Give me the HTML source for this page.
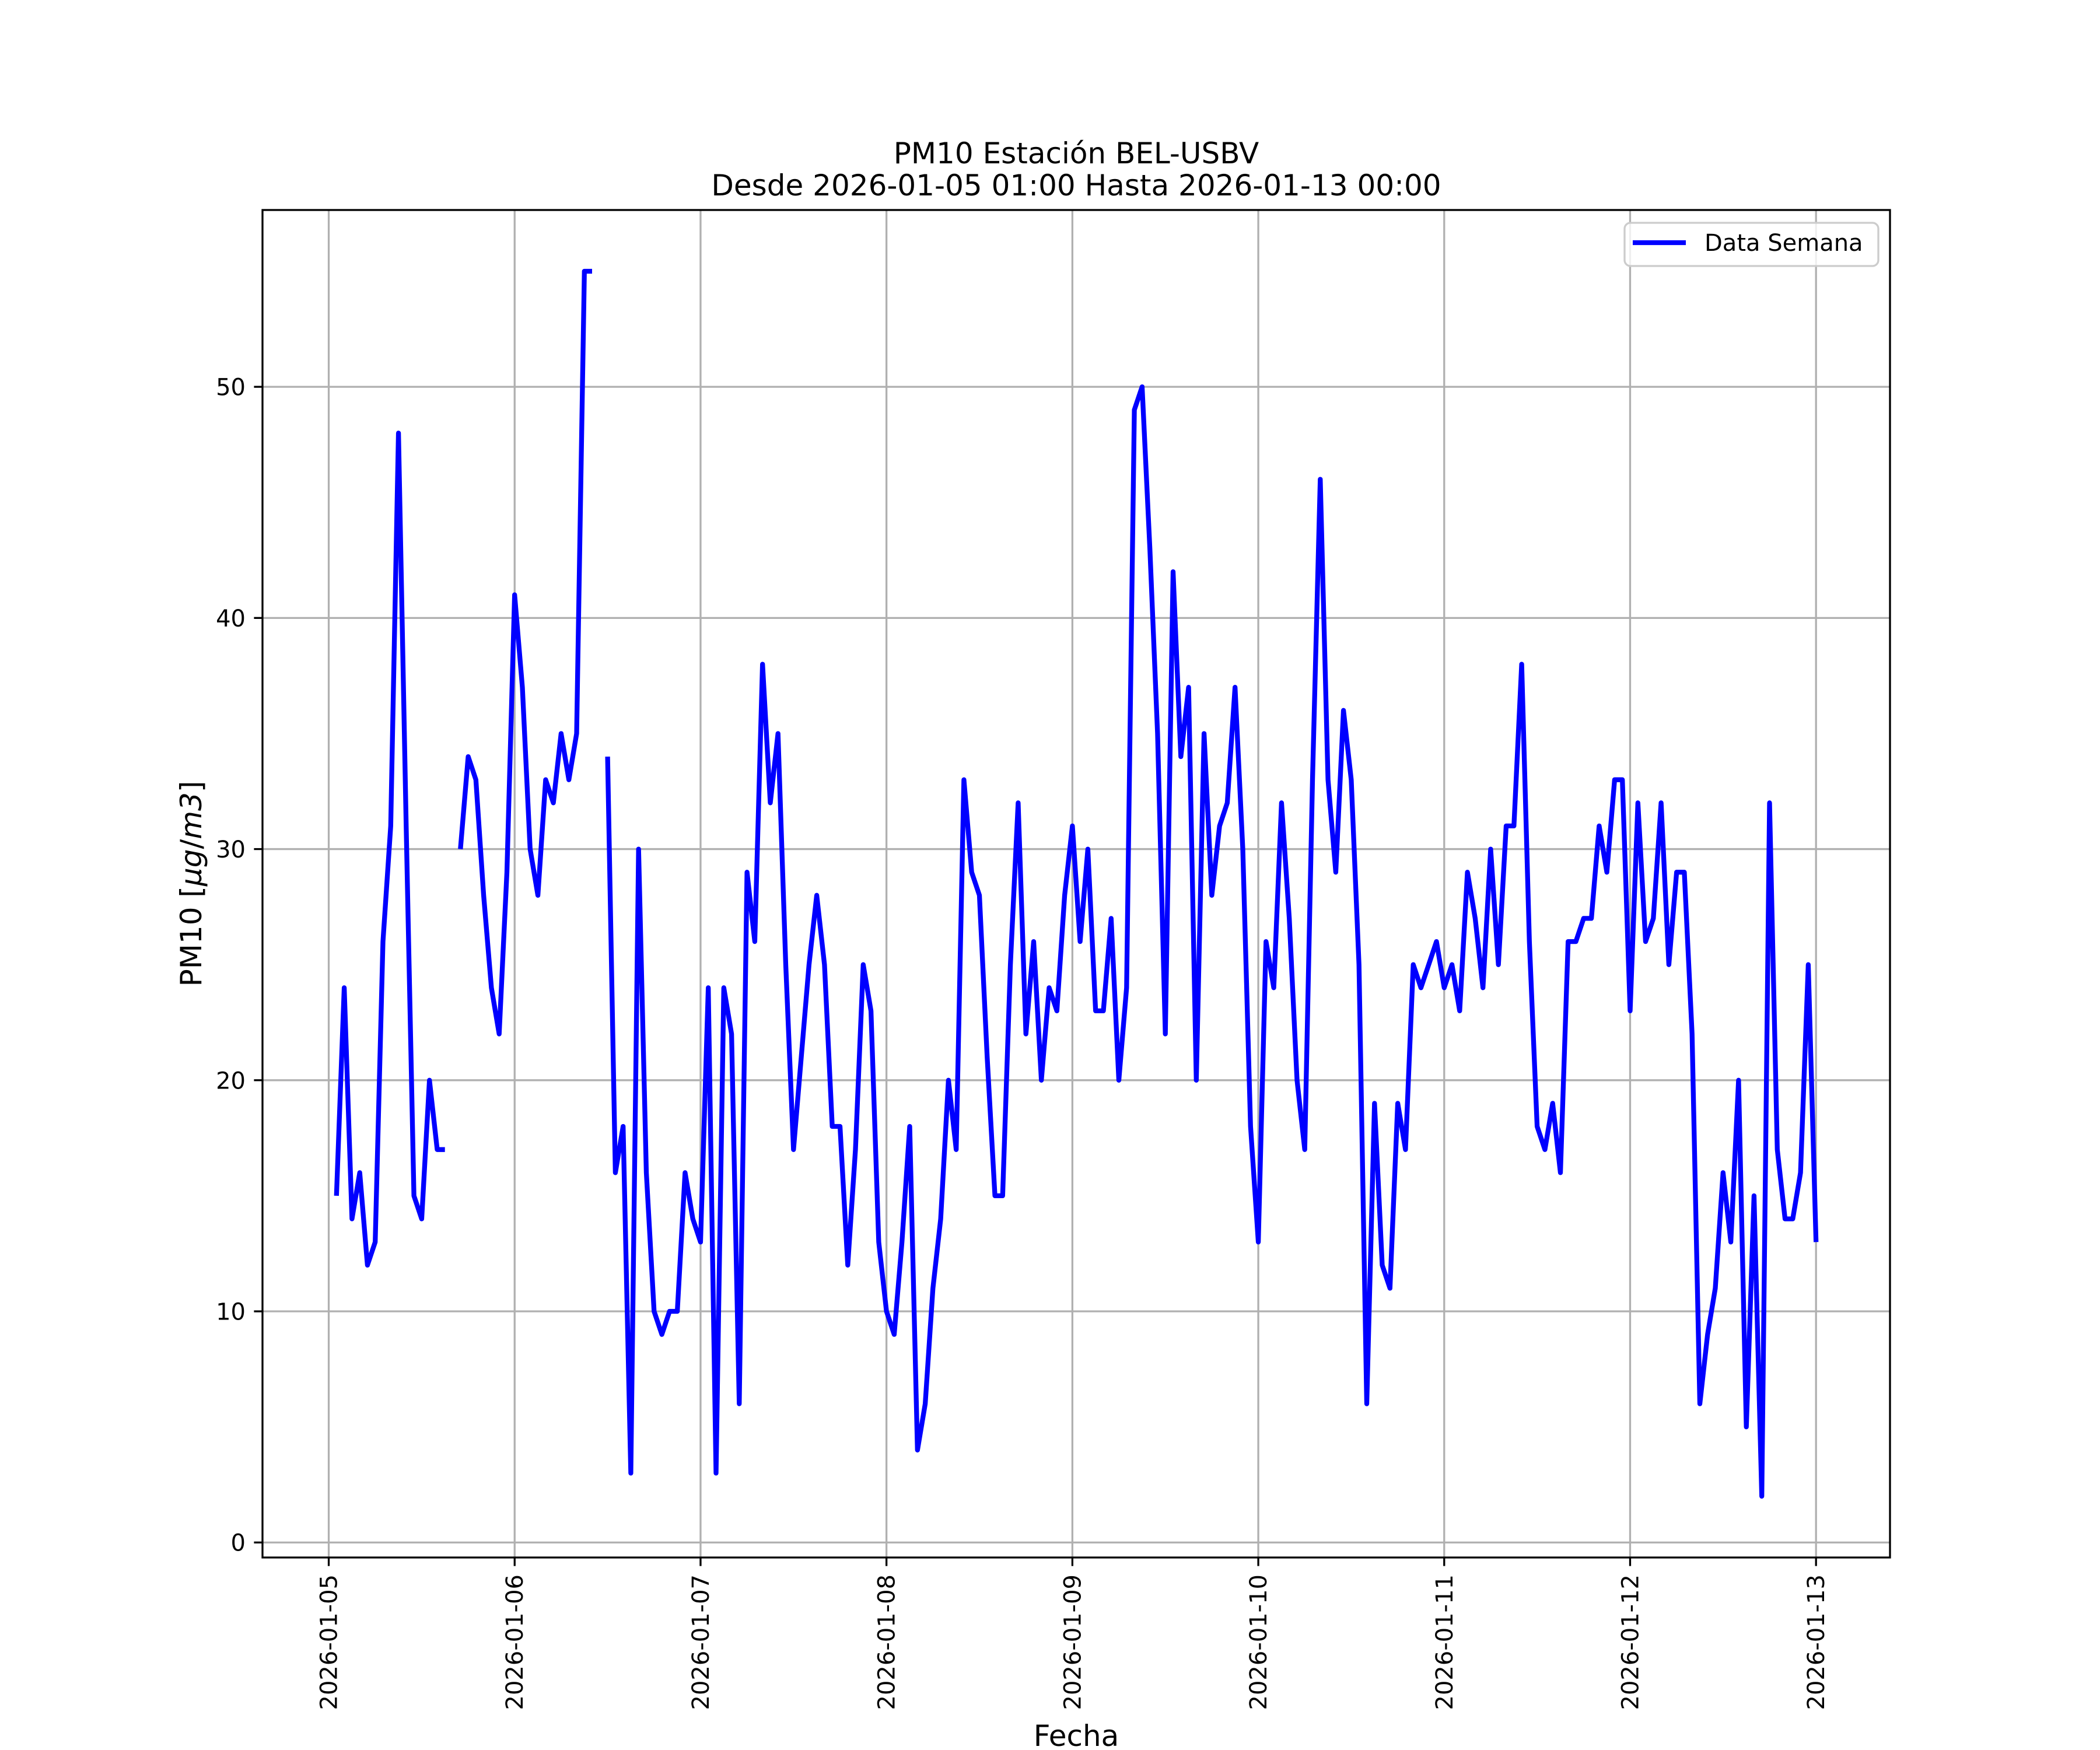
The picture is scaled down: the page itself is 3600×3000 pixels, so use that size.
<!DOCTYPE html>
<html><head><meta charset="utf-8"><style>
html,body{margin:0;padding:0;background:#fff;}
svg{display:block;font-family:"DejaVu Sans","Liberation Sans",sans-serif;}
</style></head><body>
<svg id="chart" width="3600" height="3000" viewBox="0 0 3600 3000" xmlns="http://www.w3.org/2000/svg">
<rect x="0" y="0" width="3600" height="3000" fill="#fff"/>
<g id="grid"></g>
<g id="series"></g>
<rect x="450" y="360" width="2790" height="2310" fill="none" stroke="#000" stroke-width="3.3"/>
<g id="ticks"></g>
<text x="1845" y="280" font-size="50" text-anchor="middle">PM10 Estación BEL-USBV</text>
<text x="1845" y="335" font-size="50" text-anchor="middle">Desde 2026-01-05 01:00 Hasta 2026-01-13 00:00</text>
<text x="1845" y="2993" font-size="50" text-anchor="middle">Fecha</text>
<text transform="translate(345,1515) rotate(-90)" font-size="50" text-anchor="middle">PM10 [<tspan font-style="italic">μg</tspan>/<tspan font-style="italic">m3</tspan>]</text>
<g>
<rect x="2785" y="382" width="435" height="74" rx="10" fill="#fff" fill-opacity="0.8" stroke="#cccccc" stroke-width="3.3"/>
<line x1="2799" y1="416" x2="2890" y2="416" stroke="#0000ff" stroke-width="8.3"/>
<text x="2922" y="430" font-size="40">Data Semana</text>
</g>
</svg>
<script>
// hourly PM10 values, starting 2026-01-05 01:00 (null = missing)
const values = [15,24,14,16,12,13,26,31,48,31,15,14,20,17,17,null,30,34,33,28,24,22,29,41,
37,30,28,33,32,35,33,35,55,55,null,34,16,18,3,30,16,10,9,10,10,16,14,13,
24,3,24,22,6,29,26,38,32,35,25,17,21,25,28,25,18,18,12,17,25,23,13,10,
9,13,18,4,6,11,14,20,17,33,29,28,21,15,15,25,32,22,26,20,24,23,28,31,
26,30,23,23,27,20,24,49,50,43,35,22,42,34,37,20,35,28,31,32,37,30,18,13,
26,24,32,27,20,17,33,46,33,29,36,33,25,6,19,12,11,19,17,25,24,25,26,24,
25,23,29,27,24,30,25,31,31,38,26,18,17,19,16,26,26,27,27,31,29,33,33,23,
32,26,27,32,25,29,29,22,6,9,11,16,13,20,5,15,2,32,17,14,14,16,25,13];
const startHour = 1;
const xTickLabels = ["2026-01-05","2026-01-06","2026-01-07","2026-01-08","2026-01-09","2026-01-10","2026-01-11","2026-01-12","2026-01-13"];
const yTickValues = [0,10,20,30,40,50];

const NS = "http://www.w3.org/2000/svg";
const L=450,R=3240,T=360,B=2670;
const hMin = startHour, hMax = startHour + values.length - 1;
const hPad = (hMax-hMin)*0.05;
const xLo = hMin-hPad, xHi = hMax+hPad;
const nums = values.filter(v=>v!==null);
const vMin = Math.min(...nums), vMax = Math.max(...nums), vPad=(vMax-vMin)*0.05;
const yLo = vMin-vPad, yHi = vMax+vPad;
function xS(h){return L+(h-xLo)/(xHi-xLo)*(R-L);}
function yS(v){return B-(v-yLo)/(yHi-yLo)*(B-T);}
function mk(tag,attrs,parent){const e=document.createElementNS(NS,tag);for(const k in attrs)e.setAttribute(k,attrs[k]);parent.appendChild(e);return e;}

const grid=document.getElementById('grid'), ticks=document.getElementById('ticks'), series=document.getElementById('series');
xTickLabels.forEach((lab,i)=>{
  const x=xS(i*24);
  const g=mk('line',{x1:x,y1:T,x2:x,y2:B,stroke:'#b0b0b0','stroke-width':3.3},grid);
  
  
  const t=mk('line',{x1:x,y1:B,x2:x,y2:B+14.6,stroke:'#000','stroke-width':3.3},ticks);
  
  
  const tx=mk('text',{transform:`translate(${x+14},${B+29}) rotate(-90)`,'font-size':40,'text-anchor':'end'},ticks);
  tx.textContent=lab;
  
  
});
yTickValues.forEach(v=>{
  const y=yS(v);
  const g=mk('line',{x1:L,y1:y,x2:R,y2:y,stroke:'#b0b0b0','stroke-width':3.3},grid);
  
  
  const t=mk('line',{x1:L-14.6,y1:y,x2:L,y2:y,stroke:'#000','stroke-width':3.3},ticks);
  
  
  const tx=mk('text',{x:L-29,y:y+14.5,'font-size':40,'text-anchor':'end'},ticks);
  tx.textContent=String(v);
  
  
});
let d='', pen=false;
values.forEach((v,i)=>{
  if(v===null){pen=false;return;}
  const x=xS(startHour+i).toFixed(1), y=yS(v).toFixed(1);
  d+=(pen?'L':'M')+x+' '+y+' ';
  pen=true;
});
const p=mk('path',{d:d,fill:'none',stroke:'#0000ff','stroke-width':8.3,'stroke-linejoin':'round','stroke-linecap':'butt'},series);


</script>
</body></html>
